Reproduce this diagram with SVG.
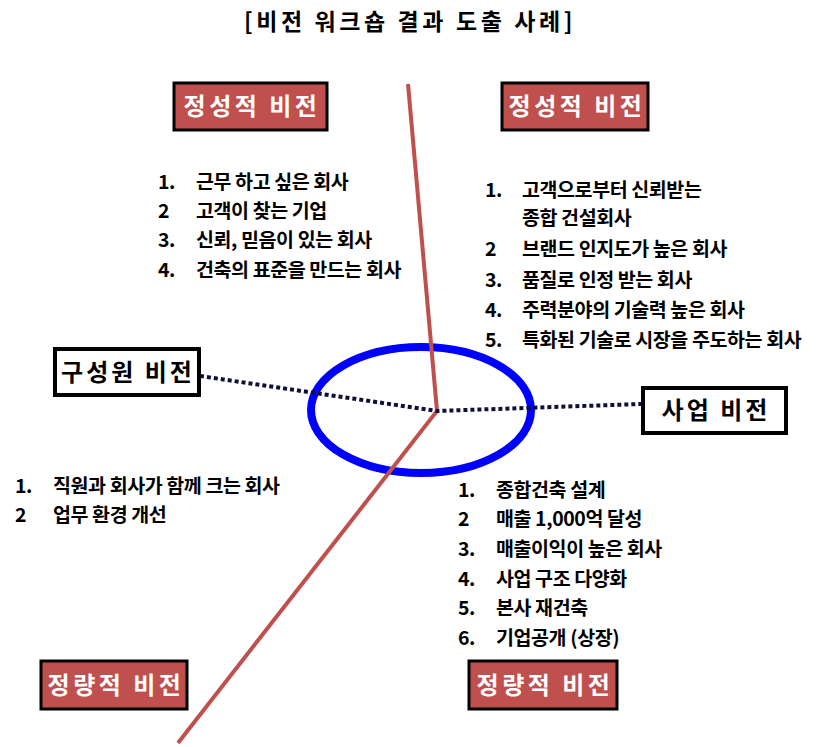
<svg xmlns="http://www.w3.org/2000/svg" width="833" height="747" viewBox="0 0 833 747">
<style>
.ko{font-family:"Noto Sans CJK KR","Noto Sans",sans-serif}
.title{font-size:23px;font-weight:700;letter-spacing:3.6px;fill:#000}
.rbox{fill:#C0504D;stroke:#000;stroke-width:3}
.wbox{fill:#fff;stroke:#000;stroke-width:4}
.rtxt{font-size:24px;font-weight:700;fill:#fff;letter-spacing:3.5px}
.btxt{font-size:24px;font-weight:700;fill:#000;letter-spacing:3px}
.li{font-size:19.5px;font-weight:700;fill:#000;letter-spacing:-0.4px}
.red{stroke:#C0504D;stroke-width:4;fill:none}
.dot{stroke:#0F0F3A;stroke-width:4;stroke-dasharray:4 3;fill:none}
</style>
<rect width="833" height="747" fill="#fff"/>
<text class="ko title" x="410" y="30" text-anchor="middle">[비전 워크숍 결과 도출 사례]</text>
<g id="ellipse"><ellipse cx="421" cy="410" rx="110" ry="63" fill="none" stroke="#0000FF" stroke-width="8"/></g>
<g id="connectors">
<polyline class="red" points="408,84 437,411 178,743"/>
<polyline class="dot" points="200,376 437,411 641,404"/>
</g>
<g id="n1"><rect class="rbox" x="174" y="83" width="153" height="47"/><text class="ko rtxt" x="252" y="115" text-anchor="middle">정성적 비전</text></g>
<g id="n2"><rect class="rbox" x="502" y="83" width="146" height="47"/><text class="ko rtxt" x="577" y="115" text-anchor="middle">정성적 비전</text></g>
<g id="n3"><rect class="rbox" x="41" y="661" width="146" height="48"/><text class="ko rtxt" x="116" y="694" text-anchor="middle">정량적 비전</text></g>
<g id="n4"><rect class="rbox" x="469" y="661" width="148" height="48"/><text class="ko rtxt" x="545" y="694" text-anchor="middle">정량적 비전</text></g>
<g id="n5"><rect class="wbox" x="55" y="349" width="144" height="46"/><text class="ko btxt" x="128" y="381" text-anchor="middle">구성원 비전</text></g>
<g id="n6"><rect class="wbox" x="643" y="388" width="143" height="45"/><text class="ko btxt" x="716" y="419" text-anchor="middle">사업 비전</text></g>
<g id="list1" class="ko li">
<text x="158" y="189">1.</text><text x="196" y="189">근무 하고 싶은 회사</text>
<text x="158" y="218">2</text><text x="196" y="218">고객이 찾는 기업</text>
<text x="158" y="247">3.</text><text x="196" y="247">신뢰, 믿음이 있는 회사</text>
<text x="158" y="277">4.</text><text x="196" y="277">건축의 표준을 만드는 회사</text>
</g>
<g id="list2" class="ko li">
<text x="485" y="197">1.</text><text x="522" y="197">고객으로부터 신뢰받는</text>
<text x="522" y="225">종합 건설회사</text>
<text x="485" y="256">2</text><text x="522" y="256">브랜드 인지도가 높은 회사</text>
<text x="485" y="287">3.</text><text x="522" y="287">품질로 인정 받는 회사</text>
<text x="485" y="317">4.</text><text x="522" y="317">주력분야의 기술력 높은 회사</text>
<text x="485" y="347">5.</text><text x="522" y="347">특화된 기술로 시장을 주도하는 회사</text>
</g>
<g id="list3" class="ko li">
<text x="15" y="493">1.</text><text x="53" y="493">직원과 회사가 함께 크는 회사</text>
<text x="15" y="522">2</text><text x="53" y="522">업무 환경 개선</text>
</g>
<g id="list4" class="ko li">
<text x="458" y="497">1.</text><text x="496" y="497">종합건축 설계</text>
<text x="458" y="526">2</text><text x="496" y="526">매출 1,000억 달성</text>
<text x="458" y="556">3.</text><text x="496" y="556">매출이익이 높은 회사</text>
<text x="458" y="586">4.</text><text x="496" y="586">사업 구조 다양화</text>
<text x="458" y="615">5.</text><text x="496" y="615">본사 재건축</text>
<text x="458" y="645">6.</text><text x="496" y="645">기업공개 (상장)</text>
</g>
</svg>
